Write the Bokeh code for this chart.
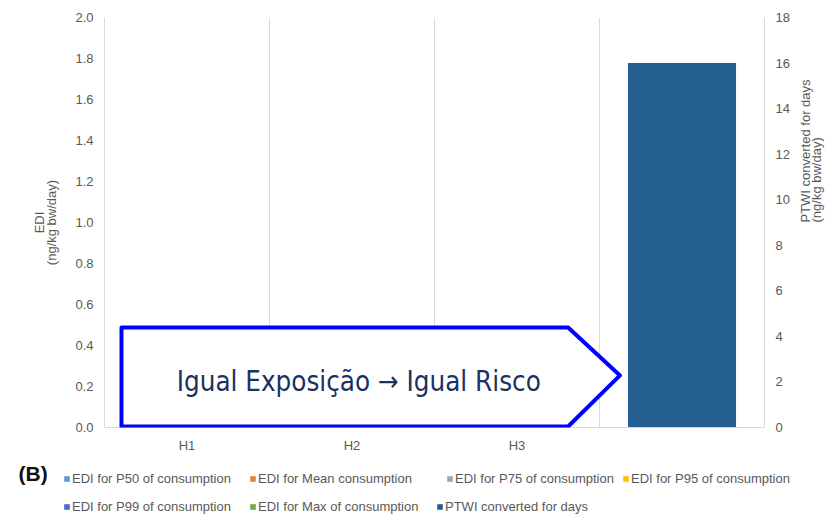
import math
from bokeh.plotting import figure
from bokeh.models import (FactorRange, Range1d, LinearAxis, Span, PolyAnnotation, Label,
                          Legend, LegendItem, ColumnDataSource, FixedTicker, NumeralTickFormatter)
from bokeh.transform import dodge
from bokeh.embed import file_html
from bokeh.resources import INLINE

# ---------------- data ----------------
categories = ["H1", "H2", "H3", " "]
edi_p50 = [0.0, 0.0, 0.0, 0.0]
edi_mean = [0.0, 0.0, 0.0, 0.0]
edi_p75 = [0.0, 0.0, 0.0, 0.0]
edi_p95 = [0.0, 0.0, 0.0, 0.0]
edi_p99 = [0.0, 0.0, 0.0, 0.0]
edi_max = [0.0, 0.0, 0.0, 0.0]
ptwi_days = [0.0, 0.0, 0.0, 16.0]

series_names = ["EDI for P50 of consumption", "EDI for Mean consumption",
                "EDI for P75 of consumption", "EDI for P95 of consumption",
                "EDI for P99 of consumption", "EDI for Max of consumption",
                "PTWI converted for days"]
series_colors = ["#5B9BD5", "#ED7D31", "#A5A5A5", "#FFC000", "#4472C4", "#70AD47", "#255E91"]
left_ticks = [0.0, 0.2, 0.4, 0.6, 0.8, 1.0, 1.2, 1.4, 1.6, 1.8, 2.0]
right_ticks = [0, 2, 4, 6, 8, 10, 12, 14, 16, 18]
callout_text = "Igual Exposição \u2192 Igual Risco"

# ---------------- styles ----------------
FONT = "Liberation Sans"
GREY_TXT = "#595959"
GREY_LINE = "#d9d9d9"
FS = "13px"

src = ColumnDataSource(dict(cat=categories, p50=edi_p50, mean=edi_mean, p75=edi_p75,
                            p95=edi_p95, p99=edi_p99, mx=edi_max, ptwi=ptwi_days))
cols = ["p50", "mean", "p75", "p95", "p99", "mx", "ptwi"]

p = figure(x_range=FactorRange(*categories), y_range=Range1d(0, 2.0),
           width=840, height=456, output_backend="svg", toolbar_location=None,
           min_border_left=104, min_border_right=74, min_border_top=17, min_border_bottom=29)
p.extra_y_ranges = {"ptwi": Range1d(0, 18)}
p.outline_line_color = None
p.xgrid.visible = False
p.ygrid.visible = False

# category boundary gridlines
for loc in [1, 2, 3]:
    p.add_layout(Span(location=loc, dimension="height", line_color=GREY_LINE,
                      line_width=1, level="underlay"))

# EDI series (clustered), PTWI on secondary axis
bw = 0.11
for i, c in enumerate(cols[:6]):
    off = (i - 2.5) * bw
    p.vbar(x=dodge("cat", off, range=p.x_range), top=c, width=bw, source=src,
           fill_color=series_colors[i], line_color=None)
p.vbar(x="cat", top="ptwi", width=0.655, source=src, y_range_name="ptwi",
       fill_color=series_colors[6], line_color=None)

# axes
ax = p.yaxis[0]
ax.ticker = FixedTicker(ticks=left_ticks)
ax.formatter = NumeralTickFormatter(format="0.0")
ax.axis_label = "EDI\n(ng/kg bw/day)"

ax2 = LinearAxis(y_range_name="ptwi", ticker=FixedTicker(ticks=right_ticks),
                 axis_label="PTWI converted for days\n(ng/kg bw/day)")
ax2.axis_label_orientation = math.pi / 2
p.add_layout(ax2, "right")

for a in [ax, ax2, p.xaxis[0]]:
    a.axis_line_color = GREY_LINE
    a.major_tick_line_color = None
    a.minor_tick_line_color = None
    a.major_tick_out = 0
    a.major_tick_in = 0
    a.minor_tick_out = 0
    a.minor_tick_in = 0
    a.major_label_text_color = GREY_TXT
    a.major_label_text_font = FONT
    a.major_label_text_font_size = FS
    a.axis_label_text_color = GREY_TXT
    a.axis_label_text_font = FONT
    a.axis_label_text_font_size = FS
    a.axis_label_text_font_style = "normal"
    a.axis_label_text_line_height = 0.82
    a.major_label_standoff = 11
ax.axis_label_standoff = 13
ax2.axis_label_text_line_height = 0.75
ax2.axis_label_standoff = 18
p.xaxis[0].major_label_standoff = 10

# callout arrow
p.add_layout(PolyAnnotation(xs=[0.103, 2.81, 3.124, 2.81, 0.103],
                            ys=[0.488, 0.488, 0.254, 0.005, 0.005],
                            fill_color="white", fill_alpha=1.0,
                            line_color="#0000FF", line_alpha=1.0, line_width=4,
                            line_join="round"))
p.add_layout(Label(x=1.541, y=0.228, text=callout_text, text_align="center",
                   text_baseline="alphabetic", text_font="DejaVu Sans Condensed",
                   text_font_size="27.5px", text_color="#1a3163"))

# ---------------- legend strip (separate root, no frame alignment) ----------------
lf = figure(width=840, height=58, output_backend="svg", toolbar_location=None,
            x_range=FactorRange(*categories), y_range=Range1d(-2, -1),
            x_axis_location=None, y_axis_location=None,
            min_border_left=0, min_border_right=0, min_border_top=0, min_border_bottom=0)
lf.outline_line_color = None
lf.xgrid.visible = False
lf.ygrid.visible = False

# legend proxies: same series, hidden in the strip (only their legend swatches show)
proxies = [lf.vbar(x="cat", top=c, width=0.5, source=src, fill_color=col, line_color=None,
                   visible=False)
           for c, col in zip(cols, series_colors)]

lf.add_layout(Label(x=18, y=41, x_units="screen", y_units="screen", text="(B)",
                    text_baseline="middle", text_font=FONT, text_font_size="21px",
                    text_font_style="bold", text_color="#111111"))

leg_pos = [(63, 28), (249, 28), (446, 28), (622, 28),
           (63, 0), (249, 0), (436, 0)]
for name, rend, loc in zip(series_names, proxies, leg_pos):
    lg = Legend(items=[LegendItem(label=name, renderers=[rend])], location=loc,
                orientation="horizontal", padding=0, margin=0, spacing=0,
                glyph_width=7, glyph_height=7, label_standoff=2, label_height=12,
                label_text_font=FONT, label_text_font_size=FS,
                label_text_color=GREY_TXT, border_line_color=None,
                background_fill_alpha=0)
    lf.add_layout(lg, "center")

open("out.html", "w").write(file_html([p, lf], INLINE))
